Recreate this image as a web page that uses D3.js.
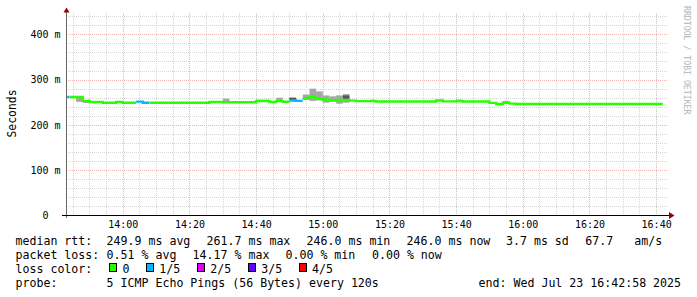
<!DOCTYPE html>
<html>
<head>
<meta charset="utf-8">
<script src="https://cdn.jsdelivr.net/npm/d3@7"></script>
<style>
  html, body { margin: 0; padding: 0; background: #fff; }
  svg { display: block; }
  text { font-family: "DejaVu Sans Mono", monospace; fill: #000; }
</style>
</head>
<body>
<div id="chart"></div>
<script>
(function(d3) {
  'use strict';

  // probe steps: one every 120 s, first step starts 13:42
  var stepStart = new Date(2025, 6, 23, 13, 42, 0);
  var stepSeconds = 120;

  // median rtt per step, ms
  var median = [
    261.7, 261.7, 261.7, 253, 250.5, 250.5, 249, 249, 250.5, 249,
    249, 251.3, 249, 249, 249, 249, 249, 249, 249, 249,
    249, 249, 250.5, 250.5, 250, 250, 250, 250, 250, 252.5,
    252.5, 250.5, 252.5, 251, 254, 253, 259, 261.5, 258, 255.5,
    254, 255, 254.5, 253.5, 252.5, 252.5, 252.5, 251.5, 251.5, 251.5,
    251.5, 251.5, 251.5, 251.5, 251.5, 251.5, 254, 252, 252, 252.5,
    251.5, 251.5, 251.5, 251.5, 248.5, 246, 248.5, 247, 246, 246,
    246, 246, 246, 246, 246, 246, 246, 246, 246, 246,
    246, 246, 246, 246, 246, 246, 246, 246, 246, 246
  ];
  // lost pings (of 5) per step
  var loss = [
    1, 0, 0, 0, 0, 0, 0, 0, 0, 0,
    0, 1, 1, 0, 0, 0, 0, 0, 0, 0,
    0, 0, 0, 0, 0, 0, 0, 0, 0, 0,
    0, 0, 0, 0, 1, 1, 0, 0, 0, 0,
    0, 0, 0, 0, 0, 0, 0, 0, 0, 0,
    0, 0, 0, 0, 0, 0, 0, 0, 0, 0,
    0, 0, 0, 0, 0, 0, 0, 0, 0, 0,
    0, 0, 0, 0, 0, 0, 0, 0, 0, 0,
    0, 0, 0, 0, 0, 0, 0, 0, 0, 0
  ];

  // smoke (spread of the pings) where it shows past the median line
  var smokeSteps = [2, 3, 24, 29, 30, 32, 34, 36, 37, 38, 39, 40, 41, 42, 46, 59, 66];
  var smokeLo    = [251, 248.5, 252, 252, 252, 252, 253, 255, 253, 254, 249, 252, 246.8, 249, 252, 252, 248];
  var smokeHi    = [260, 253, 258, 256, 256, 260, 260, 267, 280, 274, 265, 263, 265, 268, 255.7, 256, 253];
  var darkSteps  = [34, 42];
  var darkLo     = [254, 258];
  var darkHi     = [260, 265];

  var lossLabels = ['0', '1/5', '2/5', '3/5', '4/5'];
  var lossColors = ['#26ff00', '#00b8ff', '#dd00ff', '#5e00ff', '#ff0000'];
  var yTicks = [0, 100, 200, 300, 400];

  var rttStats  = ['249.9 ms avg', '261.7 ms max', '246.0 ms min', '246.0 ms now', '3.7 ms sd', '67.7', 'am/s'];
  var lossStats = ['0.51 % avg', '14.17 % max', '0.00 % min', '0.00 % now'];
  var probeText = '5 ICMP Echo Pings (56 Bytes) every 120s';
  var endText   = 'end: Wed Jul 23 16:42:58 2025';

  var width = 697, height = 297;
  var left = 66, right = 666, top = 13, bottom = 215.5;

  var svg = d3.select('#chart').append('svg')
    .attr('width', width)
    .attr('height', height);

  svg.append('rect').attr('width', width).attr('height', height).attr('fill', '#fff');

  var t0 = new Date(2025, 6, 23, 13, 42, 58);
  var t1 = new Date(2025, 6, 23, 16, 42, 58);
  var x = d3.scaleTime().domain([t0, t1]).range([left, right]);
  var y = d3.scaleLinear().domain([0, 447]).range([bottom, top]);

  function stepTime(k) { return d3.timeSecond.offset(stepStart, k * stepSeconds); }

  // ---- grid
  var grid = svg.append('g').attr('shape-rendering', 'crispEdges');
  var minorX = d3.timeMinute.every(5).range(t0, t1).filter(function(d) { return d.getMinutes() % 20 !== 0; });
  var majorX = x.ticks(d3.timeMinute.every(20));
  var gridY = d3.range(20, 447, 20);
  var minorCol = '#d6d6d6', majorCol = '#ecb4b4';

  grid.selectAll('.vminor').data(minorX).enter().append('line')
    .attr('x1', function(d) { return Math.round(x(d)) + 0.5; })
    .attr('x2', function(d) { return Math.round(x(d)) + 0.5; })
    .attr('y1', top).attr('y2', 215)
    .attr('stroke', minorCol).attr('stroke-dasharray', '1,1');

  grid.selectAll('.hminor').data(gridY.filter(function(v) { return v % 100 !== 0; })).enter().append('line')
    .attr('x1', left).attr('x2', 668)
    .attr('y1', function(d) { return Math.round(y(d)) + 0.5; })
    .attr('y2', function(d) { return Math.round(y(d)) + 0.5; })
    .attr('stroke', minorCol).attr('stroke-dasharray', '1,1');

  grid.selectAll('.vmajor').data(majorX).enter().append('line')
    .attr('x1', function(d) { return Math.round(x(d)) + 0.5; })
    .attr('x2', function(d) { return Math.round(x(d)) + 0.5; })
    .attr('y1', top).attr('y2', 215)
    .attr('stroke', majorCol).attr('stroke-dasharray', '1,1');

  grid.selectAll('.hmajor').data(gridY.filter(function(v) { return v % 100 === 0; })).enter().append('line')
    .attr('x1', left).attr('x2', 668)
    .attr('y1', function(d) { return Math.round(y(d)) + 0.5; })
    .attr('y2', function(d) { return Math.round(y(d)) + 0.5; })
    .attr('stroke', majorCol).attr('stroke-dasharray', '1,1');

  // ---- plot
  svg.append('clipPath').attr('id', 'plotclip')
    .append('rect').attr('x', left).attr('y', 0).attr('width', 602).attr('height', 215);

  var plot = svg.append('g').attr('clip-path', 'url(#plotclip)');

  plot.selectAll('.smoke').data(smokeSteps).enter().append('rect')
    .attr('x', function(k) { return x(stepTime(k)); })
    .attr('width', function(k) { return x(stepTime(k + 1)) - x(stepTime(k)); })
    .attr('y', function(k, i) { return y(smokeHi[i]); })
    .attr('height', function(k, i) { return y(smokeLo[i]) - y(smokeHi[i]); })
    .attr('fill', '#a6a6a6');

  plot.selectAll('.dark').data(darkSteps).enter().append('rect')
    .attr('x', function(k) { return x(stepTime(k)); })
    .attr('width', function(k) { return x(stepTime(k + 1)) - x(stepTime(k)); })
    .attr('y', function(k, i) { return y(darkHi[i]); })
    .attr('height', function(k, i) { return y(darkLo[i]) - y(darkHi[i]); })
    .attr('fill', '#555');

  // median line, split into runs of the same loss colour
  var runs = [];
  median.forEach(function(v, k) {
    var last = runs[runs.length - 1];
    if (!last || last.loss !== loss[k]) {
      last = { loss: loss[k], pts: [] };
      runs.push(last);
    }
    last.pts.push({ t: stepTime(k), v: v });
  });
  runs.forEach(function(r) {
    var lp = r.pts[r.pts.length - 1];
    r.pts.push({ t: d3.timeSecond.offset(lp.t, stepSeconds), v: lp.v });
  });

  var line = d3.line()
    .x(function(d) { return x(d.t); })
    .y(function(d) { return y(d.v); })
    .curve(d3.curveStepAfter);

  plot.selectAll('.median').data(runs).enter().append('path')
    .attr('d', function(r) { return line(r.pts); })
    .attr('fill', 'none')
    .attr('stroke', function(r) { return lossColors[r.loss]; })
    .attr('stroke-width', 2.4);

  // ---- axes
  svg.append('line').attr('x1', 66.5).attr('x2', 66.5).attr('y1', 218).attr('y2', 12)
    .attr('stroke', '#666').attr('shape-rendering', 'crispEdges');
  svg.append('line').attr('x1', 62).attr('x2', 669).attr('y1', 215.5).attr('y2', 215.5)
    .attr('stroke', '#000').attr('shape-rendering', 'crispEdges');
  svg.append('path').attr('d', 'M63.5,12.5L69.5,12.5L66.5,7.5Z').attr('fill', '#900');
  svg.append('path').attr('d', 'M669,212L669,219L674.5,215.5Z').attr('fill', '#900');

  var yAxis = d3.axisLeft(y)
    .tickValues(yTicks)
    .tickSize(0)
    .tickPadding(5.5)
    .tickFormat(function(v) { return v === 0 ? '0  ' : v + ' m'; });
  var gy = svg.append('g').attr('transform', 'translate(' + left + ',0)').call(yAxis);
  gy.select('.domain').remove();
  gy.selectAll('text')
    .attr('font-family', '"DejaVu Sans Mono", monospace')
    .attr('font-size', 10)
    .style('white-space', 'pre')
    .attr('fill', '#000');

  var xAxis = d3.axisBottom(x)
    .ticks(d3.timeMinute.every(20))
    .tickSize(0)
    .tickPadding(6)
    .tickFormat(d3.timeFormat('%H:%M'));
  var gx = svg.append('g').attr('transform', 'translate(0,215)').call(xAxis);
  gx.select('.domain').remove();
  gx.selectAll('text')
    .attr('font-family', '"DejaVu Sans Mono", monospace')
    .attr('font-size', 10)
    .attr('fill', '#000');

  svg.append('text')
    .attr('transform', 'translate(15.5,113.5) rotate(-90)')
    .attr('text-anchor', 'middle')
    .attr('font-size', 11.4)
    .text('Seconds');

  svg.append('text')
    .attr('transform', 'translate(683.5,6) rotate(90)')
    .attr('font-size', 8.2)
    .style('fill', '#b4b4b4')
    .text('RRDTOOL / TOBI OETIKER');

  // ---- legend
  var fs = 11.6;
  var legend = svg.append('g').attr('font-size', fs).style('white-space', 'pre');

  legend.append('text').attr('x', 15.5).attr('y', 245).text('median rtt:');
  var rttX = [106.6, 206.6, 306.6, 406.6, 506, 585.3, 634.3];
  legend.selectAll('.rtt').data(rttStats).enter().append('text')
    .attr('x', function(d, i) { return rttX[i]; })
    .attr('y', 245)
    .text(function(d) { return d; });

  legend.append('text').attr('x', 15.5).attr('y', 259).text('packet loss:');
  var lossX = [106.6, 192.6, 285.5, 372];
  legend.selectAll('.loss').data(lossStats).enter().append('text')
    .attr('x', function(d, i) { return lossX[i]; })
    .attr('y', 259)
    .text(function(d) { return d; });

  legend.append('text').attr('x', 15.5).attr('y', 273).text('loss color:');
  var boxX = [108.5, 145.5, 196.5, 247.5, 298.5];
  var labX = [122.6, 159.3, 210.3, 261.3, 312];
  legend.selectAll('.lbox').data(lossLabels).enter().append('rect')
    .attr('x', function(d, i) { return boxX[i] + 0.5; })
    .attr('y', 263.5)
    .attr('width', 7).attr('height', 7.5)
    .attr('fill', function(d, i) { return lossColors[i]; })
    .attr('stroke', '#000').attr('stroke-width', 1)
    .attr('shape-rendering', 'crispEdges');
  legend.selectAll('.llab').data(lossLabels).enter().append('text')
    .attr('x', function(d, i) { return labX[i]; })
    .attr('y', 273)
    .text(function(d) { return d; });

  legend.append('text').attr('x', 15.5).attr('y', 287).text('probe:');
  legend.append('text').attr('x', 106.6).attr('y', 287).text(probeText);
  legend.append('text').attr('x', 478.6).attr('y', 287).text(endText);

})(window.d3);
</script>
</body>
</html>
